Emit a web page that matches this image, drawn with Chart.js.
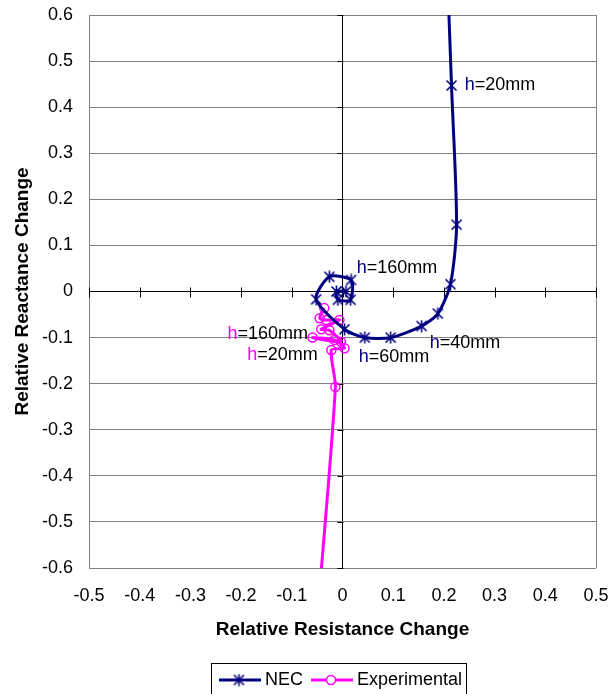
<!DOCTYPE html>
<html><head><meta charset="utf-8">
<script src="https://cdn.jsdelivr.net/npm/chart.js@4/dist/chart.umd.min.js"></script>
<style>html,body{margin:0;padding:0;background:#fff}#wrap{width:611px;height:694px;position:relative}</style>
</head><body><div id="wrap"><canvas id="c" width="611" height="694"></canvas></div>
<script>
// ---- data ----
const necX = [0.200, 0.215, 0.225, 0.213, 0.188, 0.156, 0.095, 0.044, 0.004, -0.052, -0.026, 0.017, 0.016, -0.009, -0.012, 0.007];
const necY = [0.900, 0.447, 0.145, 0.016, -0.048, -0.075, -0.100, -0.100, -0.082, -0.017, 0.032, 0.025, -0.018, -0.018, 0.000, 0.000];
const expX = [-0.049, -0.014, -0.022, 0.004, -0.016, -0.059, -0.003, -0.026, -0.042, -0.006, -0.032, -0.045, -0.036];
const expY = [-0.700, -0.207, -0.127, -0.123, -0.105, -0.100, -0.109, -0.084, -0.082, -0.062, -0.062, -0.058, -0.036];
const xTickValues = [-0.5, -0.4, -0.3, -0.2, -0.1, 0, 0.1, 0.2, 0.3, 0.4, 0.5];
const yTickValues = [-0.6, -0.5, -0.4, -0.3, -0.2, -0.1, 0, 0.1, 0.2, 0.3, 0.4, 0.5, 0.6];
const necLabelText = ['h=20mm', 'h=160mm', 'h=40mm', 'h=60mm'];
const necLabelX = [0.241, 0.028, 0.172, 0.032];
const necLabelY = [0.447, 0.051, -0.112, -0.142];
const expLabelText = ['h=160mm', 'h=20mm'];
const expLabelX = [-0.227, -0.188];
const expLabelY = [-0.092, -0.138];
const seriesNames = ['NEC', 'Experimental'];
const xTitle = 'Relative Resistance Change';
const yTitle = 'Relative Reactance Change';

const NAVY = '#000080', MAG = '#FF00FF';
const FONT = '"Liberation Sans", Arial, sans-serif';

function pts(xs, ys) { return xs.map((x, i) => ({x: x, y: ys[i]})); }
function fmt(v) { return Math.abs(v) < 1e-9 ? '0' : v.toFixed(1); }

// Excel-like "*" marker: an X with a vertical bar
function makeAsterisk(col) {
  const cv = document.createElement('canvas');
  cv.width = 13; cv.height = 13;
  const g = cv.getContext('2d');
  g.strokeStyle = col; g.lineWidth = 1.6; g.lineCap = 'butt';
  g.beginPath();
  g.moveTo(1.5, 1.5); g.lineTo(11.5, 11.5);
  g.moveTo(11.5, 1.5); g.lineTo(1.5, 11.5);
  g.moveTo(6.5, 0.5); g.lineTo(6.5, 12.5);
  g.stroke();
  return cv;
}
const asterisk = makeAsterisk(NAVY);

const labelPlugin = {
  id: 'hlabels',
  afterDatasetsDraw(chart) {
    const {ctx, scales: {x, y}} = chart;
    ctx.save();
    ctx.font = '18px ' + FONT;
    ctx.textBaseline = 'middle';
    ctx.textAlign = 'left';
    const draw = (texts, xs, ys, col) => {
      texts.forEach((t, i) => {
        const px = x.getPixelForValue(xs[i]);
        const py = y.getPixelForValue(ys[i]);
        ctx.fillStyle = col;
        ctx.fillText(t[0], px, py);
        const w = ctx.measureText(t[0]).width;
        ctx.fillStyle = '#000';
        ctx.fillText(t.slice(1), px + w, py);
      });
    };
    draw(necLabelText, necLabelX, necLabelY, NAVY);
    draw(expLabelText, expLabelX, expLabelY, MAG);
    ctx.restore();
  }
};

const axisTickPlugin = {
  id: 'axisTicks',
  beforeDatasetsDraw(chart) {
    const {ctx, scales: {x, y}} = chart;
    const x0 = Math.round(x.getPixelForValue(0)) + 0.5, y0 = Math.round(y.getPixelForValue(0)) + 0.5;
    ctx.save();
    ctx.strokeStyle = '#000';
    ctx.lineWidth = 1;
    ctx.beginPath();
    yTickValues.forEach(v => { const py = Math.round(y.getPixelForValue(v)) + 0.5; ctx.moveTo(x0 - 6, py); ctx.lineTo(x0, py); });
    xTickValues.forEach(v => { const px = Math.round(x.getPixelForValue(v)) + 0.5; ctx.moveTo(px, y0 - 5); ctx.lineTo(px, y0 + 5); });
    ctx.stroke();
    ctx.restore();
  }
};

const legendPlugin = {
  id: 'customLegend',
  afterDraw(chart) {
    const {ctx} = chart;
    ctx.save();
    ctx.strokeStyle = '#000';
    ctx.lineWidth = 1;
    ctx.strokeRect(211.5, 663.5, 255, 40);
    const cy = 680;
    const items = [
      {x0: 219, x1: 261, mx: 239, col: NAVY, style: 'star', tx: 265, text: seriesNames[0]},
      {x0: 311, x1: 353, mx: 331, col: MAG, style: 'circle', tx: 357, text: seriesNames[1]}
    ];
    items.forEach(it => {
      ctx.strokeStyle = it.col;
      ctx.lineWidth = 3;
      ctx.beginPath(); ctx.moveTo(it.x0, cy); ctx.lineTo(it.x1, cy); ctx.stroke();
      ctx.lineWidth = 1.5;
      if (it.style === 'circle') {
        ctx.fillStyle = '#fff';
        ctx.beginPath(); ctx.arc(it.mx, cy, 4.5, 0, Math.PI * 2); ctx.fill(); ctx.stroke();
      } else {
        ctx.drawImage(asterisk, it.mx - 6.5, cy - 6.5);
      }
      ctx.fillStyle = '#000';
      ctx.font = '18px ' + FONT;
      ctx.textBaseline = 'middle';
      ctx.textAlign = 'left';
      ctx.fillText(it.text, it.tx, cy);
    });
    ctx.restore();
  }
};

new Chart(document.getElementById('c'), {
  type: 'scatter',
  data: {
    datasets: [
      {
        label: seriesNames[0], data: pts(necX, necY), showLine: true,
        borderColor: NAVY, backgroundColor: NAVY, borderWidth: 3, tension: 0.25,
        pointStyle: asterisk, pointRadius: 6, pointBorderWidth: 1.5, pointBorderColor: NAVY
      },
      {
        label: seriesNames[1], data: pts(expX, expY), showLine: true,
        borderColor: MAG, backgroundColor: 'rgba(0,0,0,0)', borderWidth: 3, tension: 0.25,
        pointStyle: 'circle', pointRadius: 4.5, pointBorderWidth: 1.5, pointBorderColor: MAG
      }
    ]
  },
  options: {
    responsive: false, animation: false, devicePixelRatio: 1,
    layout: {padding: {top: 15, right: 15, left: 0, bottom: 0}},
    plugins: {legend: {display: false}, tooltip: {enabled: false}},
    scales: {
      x: {
        type: 'linear', min: -0.5, max: 0.5,
        afterBuildTicks: s => { s.ticks = xTickValues.map(v => ({value: v})); },
        afterFit: s => { s.height = 126; s.paddingLeft = 0; s.paddingRight = 0; },
        ticks: {color: '#000', font: {family: FONT, size: 18}, padding: 17, callback: v => fmt(v), maxRotation: 0, autoSkip: false},
        grid: {
          drawTicks: false, lineWidth: 1,
          color: c => { const v = c.tick ? c.tick.value : null; if (v === null) return 'rgba(0,0,0,0)'; if (Math.abs(v) < 1e-9) return '#000'; if (Math.abs(Math.abs(v) - 0.5) < 1e-9) return '#808080'; return 'rgba(0,0,0,0)'; }
        },
        border: {display: false},
        title: {display: true, text: xTitle, color: '#000', font: {family: FONT, size: 19, weight: 'bold'}, padding: {top: 0, bottom: 53}}
      },
      y: {
        type: 'linear', min: -0.6, max: 0.6,
        afterBuildTicks: s => { s.ticks = yTickValues.map(v => ({value: v})); },
        afterFit: s => { s.width = 89; s.paddingTop = 0; s.paddingBottom = 0; },
        ticks: {color: '#000', font: {family: FONT, size: 18}, padding: 16, callback: v => fmt(v), autoSkip: false},
        grid: {
          drawTicks: false, lineWidth: 1,
          color: c => { const v = c.tick ? c.tick.value : null; if (v !== null && Math.abs(v) < 1e-9) return '#000'; return '#808080'; }
        },
        border: {display: false},
        title: {display: true, text: yTitle, color: '#000', font: {family: FONT, size: 19, weight: 'bold'}, padding: {top: 11, bottom: 0}}
      }
    }
  },
  plugins: [axisTickPlugin, labelPlugin, legendPlugin]
});
</script>
</body></html>
